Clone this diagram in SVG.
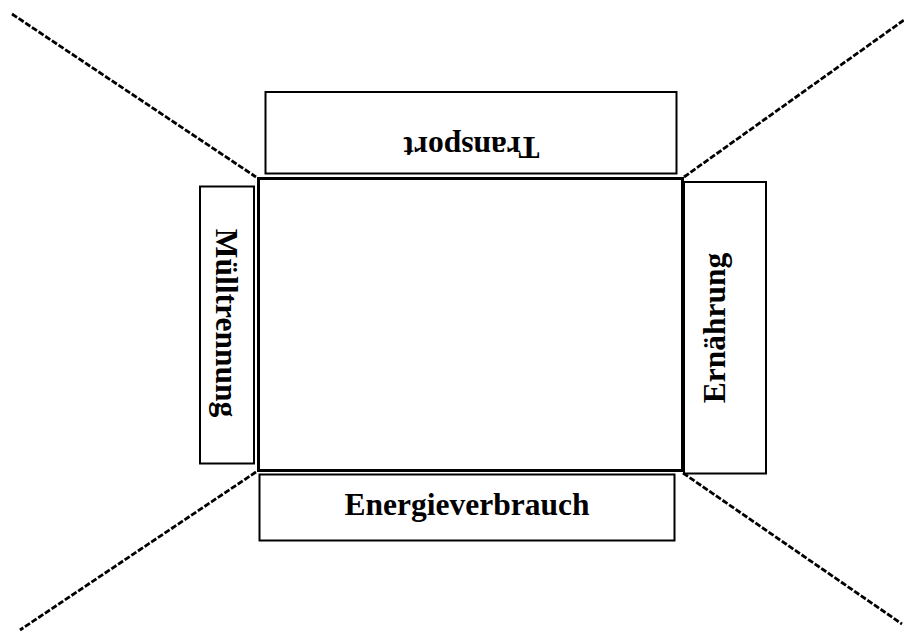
<svg xmlns="http://www.w3.org/2000/svg" width="904" height="633" viewBox="0 0 904 633">
<style>
.box{fill:#fff;stroke:#000;stroke-width:2}
.main{fill:#fff;stroke:#000;stroke-width:3}
.lbl{font-family:"Liberation Serif","Times New Roman",serif;font-weight:bold;font-size:31.5px;fill:#000}
.diag{stroke:#000;stroke-width:2.8;stroke-dasharray:6 2;fill:none}
</style>
<rect width="904" height="633" fill="#fff"/>
<g id="connectors">
<line class="diag" x1="12" y1="14" x2="256" y2="177"/>
<line class="diag" x1="684" y1="177" x2="904" y2="20"/>
<line class="diag" x1="256" y1="472" x2="20" y2="630"/>
<line class="diag" x1="683" y1="473" x2="902" y2="624"/>
</g>
<g id="center">
<rect class="main" x="258.5" y="178.5" width="424" height="292"/>
</g>
<g id="transport">
<rect class="box" x="265.5" y="92" width="411" height="81.5"/>
<text class="lbl" text-anchor="middle" transform="translate(471.5,136.5) rotate(180)">Transport</text>
</g>
<g id="muelltrennung">
<rect class="box" x="200" y="186.5" width="54" height="277"/>
<text class="lbl" text-anchor="middle" transform="translate(215.5,323) rotate(90)">Mülltrennung</text>
</g>
<g id="ernaehrung">
<rect class="box" x="684" y="182" width="82" height="291.5"/>
<text class="lbl" text-anchor="middle" transform="translate(725,328) rotate(-90)">Ernährung</text>
</g>
<g id="energieverbrauch">
<rect class="box" x="259.5" y="474.5" width="415" height="66"/>
<text class="lbl" text-anchor="middle" x="467" y="515">Energieverbrauch</text>
</g>
</svg>
